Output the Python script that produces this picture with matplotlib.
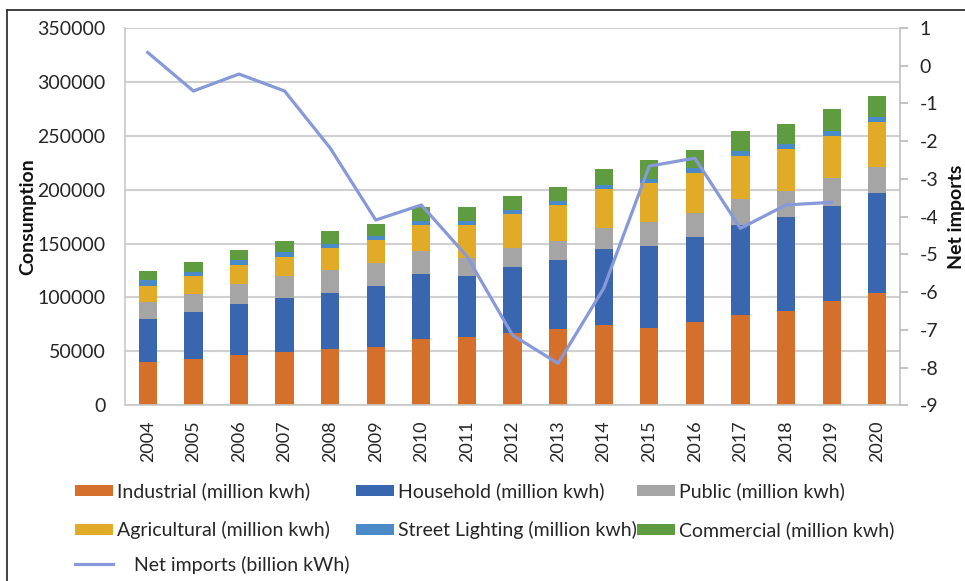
import numpy as np
import matplotlib
matplotlib.use("Agg")
import matplotlib.pyplot as plt
from matplotlib.lines import Line2D

years = [str(y) for y in range(2004, 2021)]
industrial = [40000, 42700, 46400, 49700, 52000, 54400, 61200, 63400, 66800,
              70500, 74500, 72000, 77600, 84000, 87500, 96800, 103900]
household = [40000, 44100, 47900, 50100, 52500, 56000, 60600, 56800, 61200,
             64000, 70500, 75800, 78200, 83300, 87200, 88400, 93000]
public = [15500, 16400, 18500, 20100, 20700, 21600, 21300, 16700, 17900,
          17900, 19700, 22500, 22900, 24300, 23800, 25600, 24400]
agricultural = [15500, 16700, 17300, 17700, 21000, 21600, 24400, 30400, 31800,
                33400, 35900, 35900, 36800, 39700, 39500, 39300, 41500]
street_lighting = [5200, 4000, 5000, 4300, 3700, 3400, 3700, 3400, 3700,
                   3700, 3500, 4000, 4300, 4600, 4700, 4600, 4600]
commercial = [8100, 8800, 9200, 10200, 11500, 11200, 12700, 13200, 12500,
              13300, 15400, 17100, 17300, 18800, 18500, 20400, 19800]
net_imports = [0.35, -0.67, -0.22, -0.67, -2.18, -4.09, -3.69, -5.05, -7.14,
               -7.89, -5.90, -2.66, -2.45, -4.31, -3.69, -3.62, np.nan]

series_names = ["Industrial (million kwh)", "Household (million kwh)",
                "Public (million kwh)", "Agricultural (million kwh)",
                "Street Lighting (million kwh)", "Commercial (million kwh)"]
line_name = "Net imports (billion kWh)"
colors = ["#D4702B", "#3A65AF", "#A5A5A5", "#E2AB27", "#4A8BC7", "#5F9B3F"]
line_color = "#8799D8"

plt.rcParams['font.family'] = ['Lato', 'DejaVu Sans']
plt.rcParams['axes.unicode_minus'] = False
W, H = 965, 581
fig = plt.figure(figsize=(W / 100, H / 100), dpi=100)
ax = fig.add_axes([125 / W, 1 - 405.3 / H, 775 / W, 377.3 / H])
text_color = "#262626"

x = np.arange(len(years))
bottom = np.zeros(len(years))
bars = []
for vals, c, name in zip([industrial, household, public, agricultural,
                          street_lighting, commercial], colors, series_names):
    b = ax.bar(x, vals, 0.4, bottom=bottom, color=c, label=name, zorder=2,
               edgecolor='none')
    bars.append(b)
    bottom = bottom + np.array(vals)

ax.set_xlim(-0.5, len(years) - 0.5)
ax.set_ylim(0, 350000)
ax.set_yticks(np.arange(0, 350001, 50000))
ax.yaxis.grid(True, color="#D0D0D0", linewidth=1.5, zorder=0)
ax.set_axisbelow(True)
ax.set_xticks(x)
ax.set_xticklabels(years, rotation=90, fontsize=13, color=text_color)
ax.tick_params(axis='y', length=0, pad=14, labelsize=14, labelcolor=text_color)
ax.tick_params(axis='x', length=0, pad=11)
for s in ['top', 'right']:
    ax.spines[s].set_visible(False)
for s in ['left', 'bottom']:
    ax.spines[s].set_color("#C8C8C8")
    ax.spines[s].set_linewidth(1.2)
ax.set_ylabel("Consumption", fontsize=14, fontweight='bold', color='#111111')
ax.yaxis.set_label_coords(-0.115, 0.5)

ax2 = ax.twinx()
line, = ax2.plot(x, net_imports, color=line_color, linewidth=2.3, zorder=5,
                 label=line_name)
ax2.set_ylim(-9, 1)
ax2.set_yticks(np.arange(-9, 2, 1))
ax2.tick_params(axis='y', which='both', direction='out', length=6, width=1.2,
                color="#B8B8B8", pad=8, labelsize=14, labelcolor=text_color,
                right=True, labelright=True, left=False, labelleft=False)
for s in ['top', 'left', 'bottom']:
    ax2.spines[s].set_visible(False)
ax2.spines['right'].set_color("#C0C0C0")
ax2.spines['right'].set_linewidth(1.2)
ax2.set_ylabel("Net imports", fontsize=14, fontweight='bold', color='#111111')
ax2.yaxis.set_label_coords(1.062, 0.5)

# legend entries placed in Excel-like grid
col_x = [75, 356, 637]
row_y = [491.7, 530, 565]
positions = [(0, 0), (1, 0), (2, 0), (0, 1), (1, 1), (2, 1)]
for b, name, (ci, ri) in zip(bars, series_names, positions):
    fig.legend([b], [name], loc='center left',
               bbox_to_anchor=(col_x[ci] / W, 1 - row_y[ri] / H),
               frameon=False, borderpad=0, borderaxespad=0,
               handlelength=1.95, handleheight=0.5, handletextpad=0.2,
               fontsize=14, labelcolor=text_color)
fig.legend([line], [line_name], loc='center left',
           bbox_to_anchor=(col_x[0] / W, 1 - row_y[2] / H),
           frameon=False, borderpad=0, borderaxespad=0,
           handlelength=1.95, handletextpad=1.1,
           fontsize=14, labelcolor=text_color)

# outer border (partially cropped in the reference)
fig.add_artist(Line2D([7 / W, 1], [1 - 10 / H, 1 - 10 / H], color="#333333",
                      linewidth=1.3, transform=fig.transFigure))
fig.add_artist(Line2D([7 / W, 7 / W], [0, 1 - 10 / H], color="#333333",
                      linewidth=1.3, transform=fig.transFigure))

fig.savefig("out.png", dpi=100)
